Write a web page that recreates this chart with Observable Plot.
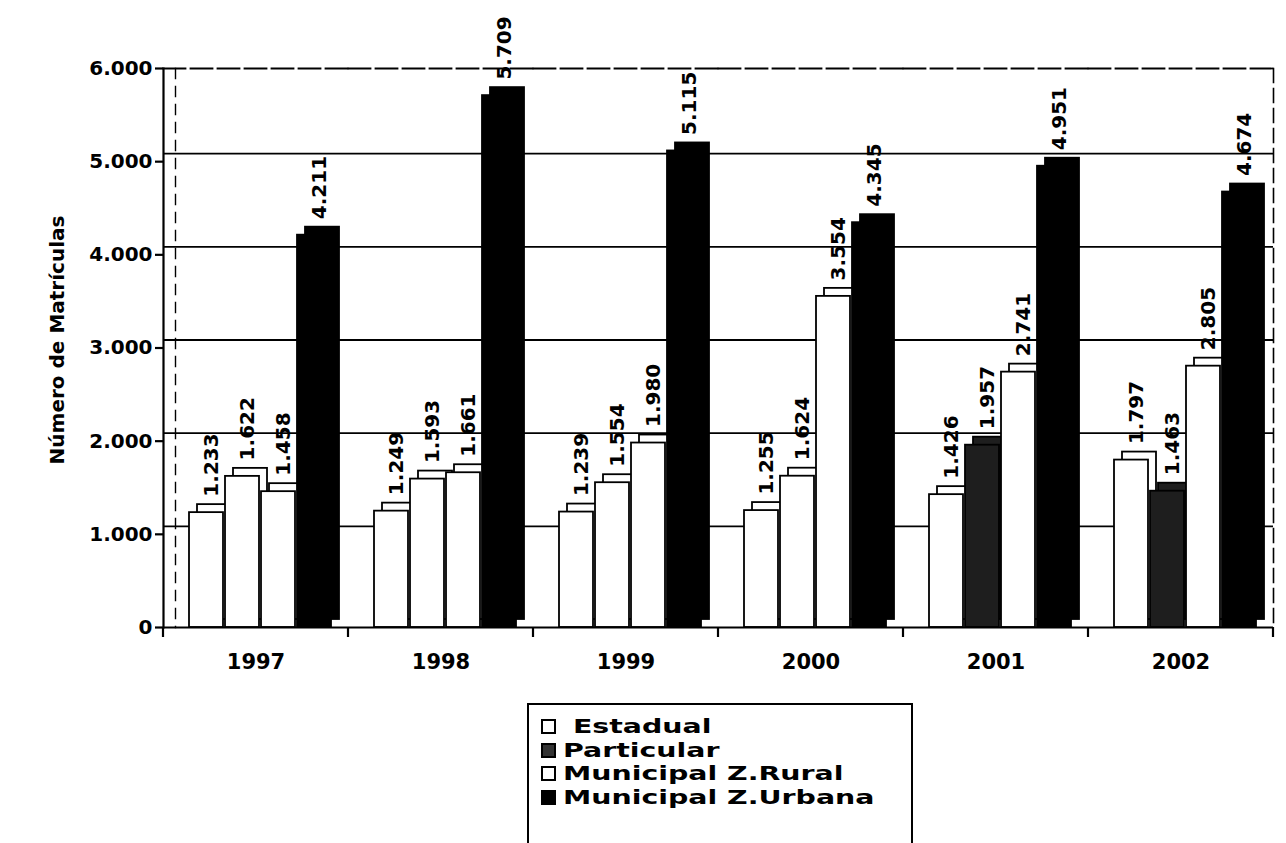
<!DOCTYPE html>
<html>
<head>
<meta charset="utf-8">
<script src="https://cdn.jsdelivr.net/npm/d3@7"></script>
<script src="https://cdn.jsdelivr.net/npm/@observablehq/plot@0.6"></script>
<style>
  html, body { margin: 0; padding: 0; background: #fff; overflow: hidden; }
  body { width: 1286px; height: 843px; position: relative; font-family: "DejaVu Sans", sans-serif; }
  #chart { position: absolute; left: 0; top: 0; }
  #ytitle { position: absolute; left: 57px; top: 340px; transform: translate(-50%, -50%) rotate(-90deg); font-weight: bold; font-size: 20px; white-space: nowrap; }
  #legend { position: absolute; left: 527px; top: 703px; width: 386px; height: 160px; border: 2px solid #000; box-sizing: border-box; padding: 10px 0 0 12px; }
  .item { font-weight: bold; font-size: 20px; line-height: 23.5px; height: 23.5px; display: flex; align-items: center; }
  .sw { width: 15px; height: 15px; border: 2px solid #000; box-sizing: border-box; margin-right: 7px; flex: none; }
  .lab { white-space: pre; display: inline-block; transform: scaleX(1.42); transform-origin: left center; }
</style>
</head>
<body>
<div id="chart"></div>
<div id="ytitle">Número de Matrículas</div>
<div id="legend"></div>
<script>
const years = ["1997", "1998", "1999", "2000", "2001", "2002"];
const series = ["Estadual", "Particular", "Municipal Z.Rural", "Municipal Z.Urbana"];
const estadual = [1233, 1249, 1239, 1255, 1426, 1797];
const particular = [1622, 1593, 1554, 1624, 1957, 1463];
const rural = [1458, 1661, 1980, 3554, 2741, 2805];
const urbana = [4211, 5709, 5115, 4345, 4951, 4674];
const yTicks = [0, 1000, 2000, 3000, 4000, 5000, 6000];

const seriesValues = [estadual, particular, rural, urbana];
const data = [];
years.forEach((yr, i) => {
  series.forEach((s, j) => data.push({ year: yr, series: s, value: seriesValues[j][i] }));
});

const fillOf = d => {
  if (d.series === "Municipal Z.Urbana") return "#000";
  if (d.series === "Particular" && +d.year >= 2001) return "#1e1e1e";
  return "#fff";
};

const locale = d3.formatLocale({ decimal: ",", thousands: ".", grouping: [3], currency: ["", ""] });
const fmt = locale.format(",d");
const font = "DejaVu Sans, sans-serif";

const plot = Plot.plot({
  width: 1286,
  height: 700,
  marginLeft: 160,
  marginRight: 11,
  marginTop: 68,
  marginBottom: 73,
  style: { fontFamily: font, background: "transparent" },
  fx: { domain: years, padding: 0, label: null },
  x: { domain: series, axis: null, paddingInner: 0.05, paddingOuter: 0.55, align: 0.6 },
  y: { domain: [0, 6000], label: null },
  marks: [
    Plot.gridY(yTicks.filter(t => t > 0 && t < 6000), { stroke: "#000", strokeOpacity: 1, strokeWidth: 1.8, dy: -8 }),
    Plot.frame({ anchor: "top", stroke: "#000", strokeWidth: 1.8, strokeDasharray: "22,5" }),
    Plot.frame({ anchor: "left", facetAnchor: "left", stroke: "#000", strokeWidth: 1.4, dx: 12, strokeDasharray: "10,8" }),
    Plot.frame({ anchor: "right", facetAnchor: "right", stroke: "#000", strokeWidth: 1.6, strokeDasharray: "14,6" }),
    Plot.frame({ anchor: "left", facetAnchor: "left", stroke: "#000", strokeWidth: 2.2 }),
    Plot.barY(data, { fx: "year", x: "series", y: "value", fill: fillOf, stroke: "#000", strokeWidth: 1.8, dx: 8, dy: -8 }),
    Plot.barY(data, { fx: "year", x: "series", y: "value", fill: fillOf, stroke: "#000", strokeWidth: 1.8 }),
    Plot.ruleY([0], { stroke: "#000", strokeWidth: 2.2 }),
    Plot.text(data, {
      fx: "year", x: "series", y: "value", text: d => fmt(d.value),
      rotate: -90, textAnchor: "start", dy: -16, dx: 5,
      fontSize: 20, fontWeight: "bold", fill: "#000", fontFamily: font
    }),
    Plot.axisY({ ticks: yTicks, tickFormat: fmt, tickSize: 8, tickPadding: 3, fontSize: 20, fontWeight: "bold", stroke: "#000", strokeWidth: 2.2, label: null, fontFamily: font }),
    Plot.axisFx({ anchor: "bottom", tickSize: 0, tickPadding: 27, fontSize: 21, fontWeight: "bold", label: null, fontFamily: font })
  ]
});
document.getElementById("chart").appendChild(plot);

// tick marks at group boundaries on the x axis, placed with the fx scale
const fxs = plot.scale("fx");
const ys = plot.scale("y");
const svg = d3.select(plot);
const edges = years.map(y => fxs.apply(y)).concat([fxs.apply(years[years.length - 1]) + fxs.bandwidth]);
const y0 = ys.apply(0);
svg.append("g").selectAll("line").data(edges).join("line")
  .attr("x1", d => d).attr("x2", d => d)
  .attr("y1", y0).attr("y2", y0 + 10)
  .attr("stroke", "#000").attr("stroke-width", 2.2);

// legend
const legendFills = { "Estadual": "#fff", "Particular": "#333", "Municipal Z.Rural": "#fff", "Municipal Z.Urbana": "#000" };
const legend = d3.select("#legend");
series.forEach((s, i) => {
  const it = legend.append("div").attr("class", "item");
  it.append("div").attr("class", "sw").style("background", legendFills[s]);
  it.append("span").attr("class", "lab").text((i === 0 ? " " : "") + s);
});
</script>
</body>
</html>
